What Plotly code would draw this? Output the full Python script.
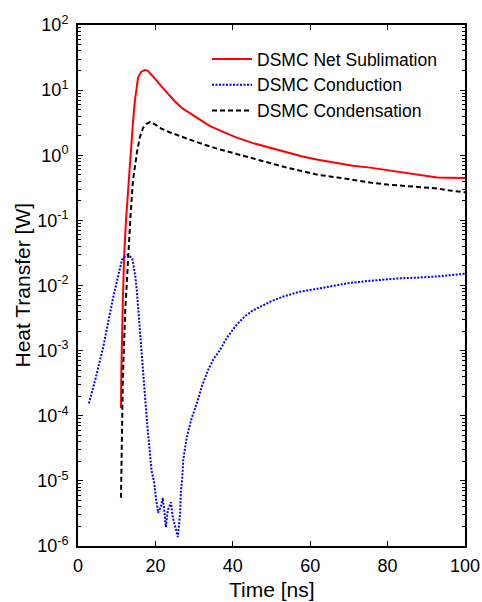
import plotly.graph_objects as go

# Net sublimation (red solid): time [ns], log10(heat transfer [W])
sub_t = [11.1, 11.2, 11.6, 11.9, 12.4, 12.9, 13.3, 13.7, 14.2, 14.7, 15.5, 16.3, 17.3, 18.0,
         19.0, 20.0, 21.5, 23.0, 25.0, 27.0, 29.0, 31.5, 34.0, 37.5, 41.0, 45.0, 50.0, 55.0,
         58.0, 62.0, 67.0, 71.0, 75.5, 80.0, 84.0, 88.0, 92.8, 96.0, 100.0]
sub_log = [-3.88, -3.3, -2.2, -1.57, -1.0, -0.54, -0.2, 0.07, 0.5, 0.835, 1.19, 1.28, 1.31, 1.30,
           1.24, 1.17, 1.06, 0.96, 0.83, 0.72, 0.64, 0.55, 0.45, 0.36, 0.27, 0.19, 0.11, 0.03,
           -0.02, -0.07, -0.12, -0.16, -0.19, -0.23, -0.27, -0.30, -0.34, -0.345, -0.35]

# Conduction (blue dotted)
con_t = [2.8, 4.4, 6.5, 9.1, 11.3, 11.6, 12.8, 14.0, 14.8, 15.2, 16.0, 16.9, 17.8, 19.0, 19.7,
         20.2, 20.7, 21.4, 21.9, 22.4, 22.7, 23.2, 24.0, 24.5, 25.8, 26.4, 26.6, 26.9, 27.2,
         28.1, 29.3, 30.7, 32.0, 33.6, 35.0, 36.7, 38.5, 41.0, 43.0, 45.0, 47.5, 50.0, 53.0,
         57.0, 61.8, 66.0, 70.3, 75.0, 78.8, 83.0, 87.6, 93.0, 100.0]
con_log = [-3.81, -3.46, -2.95, -2.18, -1.62, -1.58, -1.53, -1.58, -1.85, -2.08, -2.69, -3.46,
           -4.07, -4.84, -5.03, -5.29, -5.49, -5.40, -5.26, -5.52, -5.71, -5.45, -5.33, -5.56,
           -5.86, -5.49, -5.14, -4.99, -4.68, -4.33, -4.05, -3.81, -3.55, -3.30, -3.13, -2.99,
           -2.80, -2.60, -2.48, -2.39, -2.31, -2.24, -2.17, -2.10, -2.05, -2.00, -1.96, -1.93,
           -1.91, -1.89, -1.88, -1.86, -1.82]

# Condensation (black dashed)
cnd_t = [11.1, 11.3, 11.6, 12.2, 12.9, 13.6, 14.2, 15.3, 16.0, 16.8, 17.6, 18.6, 20.0, 21.5,
         23.8, 26.0, 28.9, 32.3, 36.0, 41.0, 45.0, 49.6, 54.0, 58.0, 62.0, 67.0, 71.0, 75.5,
         80.0, 84.0, 88.0, 92.8, 96.0, 100.0]
cnd_log = [-5.26, -4.5, -3.4, -2.4, -1.57, -0.9, -0.39, 0.07, 0.28, 0.42, 0.48, 0.51, 0.47, 0.41,
           0.35, 0.30, 0.24, 0.17, 0.10, 0.02, -0.05, -0.12, -0.19, -0.25, -0.30, -0.34, -0.38,
           -0.42, -0.45, -0.47, -0.49, -0.51, -0.54, -0.57]

names = ["DSMC Net Sublimation", "DSMC Conduction", "DSMC Condensation"]
xticks = [0, 20, 40, 60, 80, 100]
yexp = [-6, -5, -4, -3, -2, -1, 0, 1, 2]
minor_digits = [2, 3, 4, 5, 6, 7, 8, 9]

FONT = "Arial, Liberation Sans, sans-serif"

fig = go.Figure()
fig.add_trace(go.Scatter(x=sub_t, y=[10 ** v for v in sub_log], mode="lines", name=names[0],
                         line=dict(color="#ff0000", width=2)))
fig.add_trace(go.Scatter(x=con_t, y=[10 ** v for v in con_log], mode="lines", name=names[1],
                         line=dict(color="#0000ff", width=2, dash="2px,1.5px")))
fig.add_trace(go.Scatter(x=cnd_t, y=[10 ** v for v in cnd_log], mode="lines", name=names[2],
                         line=dict(color="#000000", width=2, dash="5px,3px")))

fig.update_layout(
    width=482, height=602,
    margin=dict(l=78, r=17, t=25, b=56),
    paper_bgcolor="white", plot_bgcolor="white",
    font=dict(family=FONT, size=18, color="black"),
    showlegend=True,
    legend=dict(x=(213 - 78 - 6) / 387, y=1 - (41 - 25) / 521, xanchor="left", yanchor="top",
                bgcolor="rgba(0,0,0,0)", font=dict(size=17.5), tracegroupgap=0,
                itemwidth=40),
    annotations=[
        dict(text="Time [ns]", xref="paper", yref="paper", x=0.5, y=0, xanchor="center",
             yanchor="middle", yshift=-43, showarrow=False, font=dict(size=21)),
        dict(text="Heat Transfer [W]", xref="paper", yref="paper", x=0, y=0.5,
             xanchor="center", yanchor="middle", xshift=-56, textangle=-90,
             showarrow=False, font=dict(size=21)),
    ],
)
fig.update_xaxes(
    range=[0, 100], tickvals=xticks, ticktext=[str(v) for v in xticks],
    showgrid=False, zeroline=False, showline=True, linecolor="black", linewidth=2,
    mirror="allticks", ticks="inside", ticklen=5, tickcolor="black", tickwidth=1,
    automargin=False, ticklabelstandoff=2,
)
fig.update_yaxes(
    type="log", range=[-6, 2],
    tickvals=[10 ** e for e in yexp],
    ticktext=["10<sup>%d</sup>" % e for e in yexp],
    showgrid=False, zeroline=False, showline=True, linecolor="black", linewidth=2,
    mirror="allticks", ticks="inside", ticklen=5, tickcolor="black", tickwidth=1,
    minor=dict(ticks="inside", ticklen=3, tickcolor="black", tickwidth=1,
               tickvals=[d * 10 ** e for e in yexp[:-1] for d in minor_digits]),
    automargin=False, ticklabelstandoff=4,
)

fig.write_html("out.html")
